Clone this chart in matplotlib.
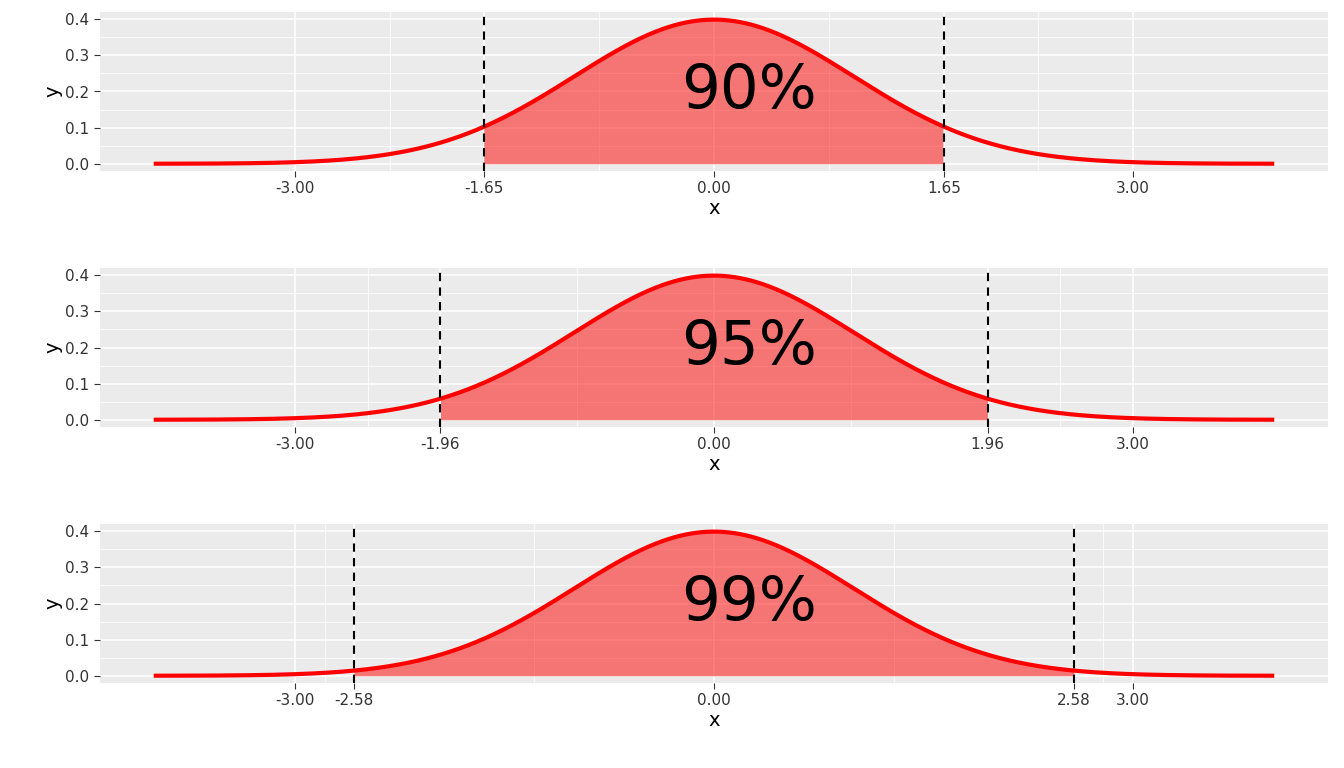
import numpy as np
import matplotlib
matplotlib.use("Agg")
import matplotlib.pyplot as plt

# standard normal density evaluated on a grid
x = np.linspace(-4, 4, 801)
y = np.exp(-x ** 2 / 2) / np.sqrt(2 * np.pi)

labels = ["90%", "95%", "99%"]
crit = [1.65, 1.96, 2.58]
y_ticks = [0.0, 0.1, 0.2, 0.3, 0.4]

W, H = 1344, 768
fig = plt.figure(figsize=(W / 100, H / 100), dpi=100)
tops = [12, 268, 524]
panel_h = 159

for top, lab, z in zip(tops, labels, crit):
    ax = fig.add_axes([100 / W, 1 - (top + panel_h) / H, 1228 / W, panel_h / H])
    ax.set_facecolor("#EBEBEB")
    for s in ax.spines.values():
        s.set_visible(False)
    xt = [-3.0, -z, 0.0, z, 3.0]
    ax.set_xlim(-4.4, 4.4)
    ax.set_ylim(-0.02, 0.42)
    ax.set_xticks(xt)
    ax.set_xticklabels([f"{v:.2f}" for v in xt])
    ax.set_yticks(y_ticks)
    ax.set_yticklabels([f"{v:.1f}" for v in y_ticks])
    minor_x = [-4.4 + 0 * 0] if False else []
    srt = [-4.4] + xt + [4.4]
    minor_x = [(a + b) / 2 for a, b in zip(srt[:-1], srt[1:])][1:-1]
    ax.set_xticks(minor_x, minor=True)
    ax.set_yticks([0.05, 0.15, 0.25, 0.35], minor=True)
    ax.grid(which="major", color="white", linewidth=1.1)
    ax.grid(which="minor", color="white", linewidth=0.55)
    ax.tick_params(which="major", colors="#333333", labelsize=11, length=4,
                   color="#333333")
    ax.tick_params(which="minor", length=0)
    ax.set_axisbelow(True)

    m = (x >= -z) & (x <= z)
    ax.fill_between(x[m], y[m], 0, color="#FF0000", alpha=0.5, linewidth=0)
    ax.plot(x, y, color="#FF0000", linewidth=3)
    for v in (-z, z):
        ax.axvline(v, color="black", linestyle=(0, (4, 3)), linewidth=1.5)
    ax.text(0.25, 0.2, lab, fontsize=44, ha="center", va="center", color="black")
    ax.set_xlabel("x", fontsize=14, labelpad=2)
    ax.set_ylabel("y", fontsize=14, labelpad=2)

fig.savefig("out.png", dpi=100)
